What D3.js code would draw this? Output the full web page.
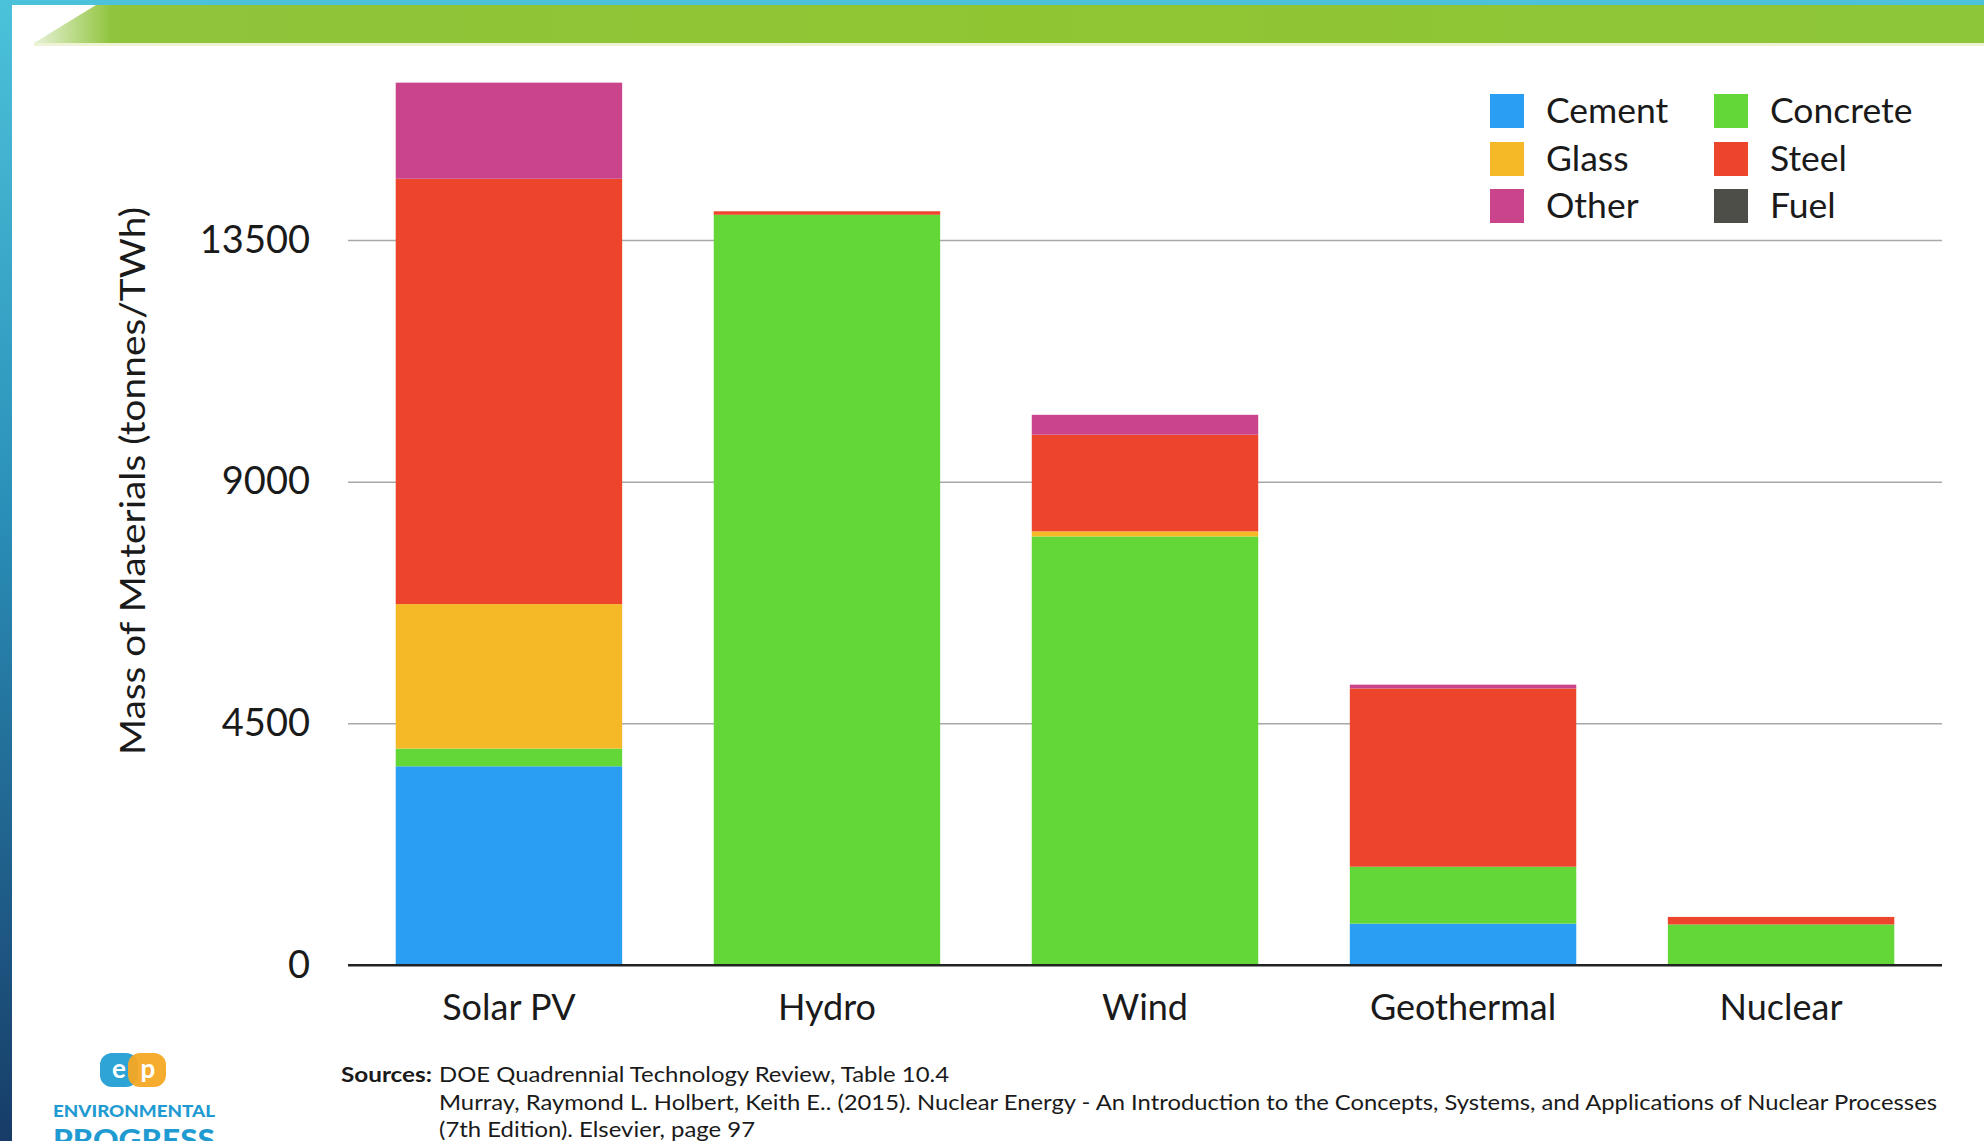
<!DOCTYPE html>
<html>
<head>
<meta charset="utf-8">
<script src="https://cdn.jsdelivr.net/npm/d3@7"></script>
<style>
  html, body { margin: 0; padding: 0; background: #ffffff; }
  svg { display: block; }
  text { font-family: Lato, "Open Sans", sans-serif; fill: #1a1a1a; }
</style>
</head>
<body>
<svg id="chart" width="1984" height="1141"></svg>
<script>
// Technologies along the x axis
const categories = ["Solar PV", "Hydro", "Wind", "Geothermal", "Nuclear"];

// Material series, stacked bottom to top (tonnes per TWh)
const materials = ["Cement", "Concrete", "Glass", "Steel", "Other", "Fuel"];
const cement   = [3700,     0,    0,  770,   0];
const concrete = [ 330, 13970, 7980, 1060, 755];
const glass    = [2690,     0,   95,    0,   0];
const steel    = [7920,    65, 1800, 3320, 140];
const other    = [1790,     0,  370,   70,   0];
const fuel     = [   0,     0,    0,    0,   0];

const yTicks = [0, 4500, 9000, 13500];

const materialColors = ["#2a9ef2", "#62d737", "#f5b827", "#ec452b", "#c9448a", "#4e4e48"];

// Legend layout: two columns of three
const legendColumns = [["Cement", "Glass", "Other"], ["Concrete", "Steel", "Fuel"]];

const sourcesLines = [
  "DOE Quadrennial Technology Review, Table 10.4",
  "Murray, Raymond L. Holbert, Keith E.. (2015). Nuclear Energy - An Introduction to the Concepts, Systems, and Applications of Nuclear Processes",
  "(7th Edition). Elsevier, page 97"
];

const seriesValues = { Cement: cement, Concrete: concrete, Glass: glass, Steel: steel, Other: other, Fuel: fuel };
const rows = categories.map((c, i) => {
  const r = { category: c };
  materials.forEach(m => { r[m] = seriesValues[m][i]; });
  return r;
});

const svg = d3.select("#chart");
const W = 1984, H = 1141;
const defs = svg.append("defs");

// ---- page decoration ----
const sideGrad = defs.append("linearGradient").attr("id", "sideGrad")
  .attr("x1", 0).attr("y1", 0).attr("x2", 0).attr("y2", 1);
sideGrad.append("stop").attr("offset", 0).attr("stop-color", "#4cc2da");
sideGrad.append("stop").attr("offset", 0.45).attr("stop-color", "#2a8fb8");
sideGrad.append("stop").attr("offset", 1).attr("stop-color", "#173c68");

const bandGrad = defs.append("linearGradient").attr("id", "bandGrad")
  .attr("x1", 0).attr("y1", 0).attr("x2", 1).attr("y2", 0);
bandGrad.append("stop").attr("offset", 0).attr("stop-color", "#e8f2d8");
bandGrad.append("stop").attr("offset", 0.04).attr("stop-color", "#8fc43c");
bandGrad.append("stop").attr("offset", 0.5).attr("stop-color", "#90c532");
bandGrad.append("stop").attr("offset", 1).attr("stop-color", "#8ec63a");

svg.append("rect").attr("x", 0).attr("y", 0).attr("width", W).attr("height", H).attr("fill", "#ffffff");
svg.append("polygon")
  .attr("points", `${96},5 ${W},5 ${W},43 ${34},43`)
  .attr("fill", "url(#bandGrad)");
svg.append("rect").attr("x", 34).attr("y", 43).attr("width", W - 34).attr("height", 3).attr("fill", "#eef3d6");
svg.append("rect").attr("x", 0).attr("y", 0).attr("width", W).attr("height", 5).attr("fill", "#4cc2da");
svg.append("rect").attr("x", 0).attr("y", 0).attr("width", 12).attr("height", H).attr("fill", "url(#sideGrad)");

// ---- scales ----
const plotLeft = 348, plotRight = 1942;
const x = d3.scaleBand().domain(categories).range([plotLeft, plotRight])
  .paddingInner(0.288).paddingOuter(0.15);
const y = d3.scaleLinear().domain([0, 13500]).range([965, 240]);
const color = d3.scaleOrdinal().domain(materials).range(materialColors);

// ---- gridlines and tick labels ----
const yAxis = svg.append("g")
  .attr("transform", `translate(${plotLeft},0)`)
  .call(d3.axisLeft(y).tickValues(yTicks).tickSize(-(plotRight - plotLeft)).tickPadding(38).tickFormat(d3.format("d")));
yAxis.select(".domain").remove();
yAxis.selectAll(".tick line")
  .attr("stroke", d => d === 0 ? "#222" : "#a8a8a8")
  .attr("stroke-width", d => d === 0 ? 2 : 1.5);
yAxis.selectAll(".tick text")
  .style("font-size", "38px").attr("fill", "#1a1a1a")
  .style("font-family", "Lato, sans-serif");

// ---- stacked bars ----
const stacked = d3.stack().keys(materials)(rows);
svg.append("g").selectAll("g")
  .data(stacked).join("g")
  .attr("fill", d => color(d.key))
  .selectAll("rect")
  .data(d => d.filter(s => s[1] - s[0] > 0))
  .join("rect")
  .attr("x", d => x(d.data.category))
  .attr("width", x.bandwidth())
  .attr("y", d => y(d[1]))
  .attr("height", d => y(d[0]) - y(d[1]));

// baseline drawn over bars
svg.append("line")
  .attr("x1", plotLeft).attr("x2", plotRight)
  .attr("y1", y(0)).attr("y2", y(0))
  .attr("stroke", "#222").attr("stroke-width", 2);

// ---- category labels ----
const xAxis = svg.append("g")
  .attr("transform", `translate(0,${y(0)})`)
  .call(d3.axisBottom(x).tickSize(0).tickPadding(29));
xAxis.select(".domain").remove();
xAxis.selectAll(".tick text")
  .style("font-size", "36px").attr("fill", "#1a1a1a")
  .style("font-family", "Lato, sans-serif");

// ---- y axis title ----
svg.append("text")
  .attr("transform", "translate(145,481) rotate(-90)")
  .attr("text-anchor", "middle")
  .attr("textLength", 548).attr("lengthAdjust", "spacingAndGlyphs")
  .style("font-size", "34px")
  .text("Mass of Materials (tonnes/TWh)");

// ---- legend ----
const legendX = [1490, 1714], legendY = [111, 159, 206], sw = 34;
legendColumns.forEach((col, ci) => {
  col.forEach((name, ri) => {
    const g = svg.append("g").attr("transform", `translate(${legendX[ci]},${legendY[ri]})`);
    g.append("rect").attr("x", 0).attr("y", -sw / 2).attr("width", sw).attr("height", sw)
      .attr("fill", color(name));
    g.append("text").attr("x", 56).attr("y", 0).attr("dy", "0.35em")
      .style("font-size", "35.5px").text(name);
  });
});

// ---- sources ----
const src = svg.append("g");
src.append("text").attr("x", 341).attr("y", 1082)
  .attr("textLength", 91).attr("lengthAdjust", "spacingAndGlyphs")
  .style("font-size", "21px").style("font-weight", 700).text("Sources:");
sourcesLines.forEach((line, i) => {
  const t = src.append("text").attr("x", 439).attr("y", 1082 + i * 27.5)
    .style("font-size", "21px").text(line);
  if (i === 1) t.attr("textLength", 1498).attr("lengthAdjust", "spacingAndGlyphs");
  if (i === 0) t.attr("textLength", 510).attr("lengthAdjust", "spacingAndGlyphs");
  if (i === 2) t.attr("textLength", 316).attr("lengthAdjust", "spacingAndGlyphs");
});

// ---- organisation mark, bottom left ----
const logo = svg.append("g");
logo.append("rect").attr("x", 100).attr("y", 1053).attr("width", 38).attr("height", 34).attr("rx", 12)
  .attr("fill", "#2ea3d6");
logo.append("rect").attr("x", 128).attr("y", 1053).attr("width", 38).attr("height", 34).attr("rx", 12)
  .attr("fill", "#f6a823").attr("opacity", 0.95);
logo.append("text").attr("x", 119).attr("y", 1078).attr("text-anchor", "middle")
  .style("font-size", "26px").style("font-weight", 700).style("fill", "#ffffff").text("e");
logo.append("text").attr("x", 148).attr("y", 1078).attr("text-anchor", "middle")
  .style("font-size", "26px").style("font-weight", 700).style("fill", "#ffffff").text("p");
logo.append("text").attr("x", 53).attr("y", 1117)
  .attr("textLength", 162).attr("lengthAdjust", "spacingAndGlyphs")
  .style("font-size", "16px").style("font-weight", 900).style("fill", "#1f9bd2")
  .text("ENVIRONMENTAL");
logo.append("text").attr("x", 53).attr("y", 1150)
  .attr("textLength", 162).attr("lengthAdjust", "spacingAndGlyphs")
  .style("font-size", "28px").style("font-weight", 900).style("fill", "#1f9bd2")
  .text("PROGRESS");
</script>
</body>
</html>
